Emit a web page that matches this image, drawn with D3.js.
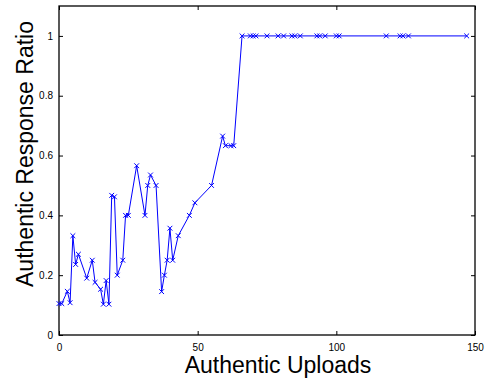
<!DOCTYPE html>
<html>
<head>
<meta charset="utf-8">
<script src="https://cdn.jsdelivr.net/npm/d3@7"></script>
<style>
  html, body { margin: 0; padding: 0; background: #fff; }
  svg { display: block; }
  text { font-family: "Liberation Sans", Arial, Helvetica, sans-serif; fill: #000; }
</style>
</head>
<body>
<svg id="chart" width="492" height="381"></svg>
<script>
// Number of authentic uploads per user
const uploads = [0, 1, 3, 4, 5, 6, 7, 10, 12, 13, 15, 16, 17, 18, 19, 20, 21, 23, 24, 25,
  28, 31, 32, 33, 35, 37, 38, 39, 40, 41, 43, 47, 49, 55, 59, 60, 62, 63,
  66, 69, 70, 71, 75, 79, 81, 84, 85, 87, 93, 94, 96, 100, 101, 118, 123, 124, 126, 147];
// Fraction of responses that were authentic
const ratios = [0.105, 0.105, 0.146, 0.108, 0.332, 0.236, 0.27, 0.19, 0.25, 0.176, 0.153, 0.103, 0.182, 0.103, 0.467, 0.462, 0.2, 0.25, 0.4, 0.4,
  0.566, 0.4, 0.5, 0.535, 0.5, 0.145, 0.2, 0.25, 0.357, 0.25, 0.332, 0.4, 0.442, 0.5, 0.665, 0.633, 0.633, 0.633,
  1, 1, 1, 1, 1, 1, 1, 1, 1, 1, 1, 1, 1, 1, 1, 1, 1, 1, 1, 1];
const xTicks = [0, 50, 100, 150];
const yTicks = [0, 0.2, 0.4, 0.6, 0.8, 1];
const xTitle = "Authentic Uploads";
const yTitle = "Authentic Response Ratio";

const data = uploads.map((u, i) => ({ x: u, y: ratios[i] }));

const svg = d3.select("#chart");
const plotLeft = 59, plotRight = 475, plotTop = 6, plotBottom = 335;

const x = d3.scaleLinear().domain([0, 150]).range([plotLeft, plotRight]);
const y = d3.scaleLinear().domain([0, 1.1]).range([plotBottom, plotTop]);

const tickLen = 4;
const fmtY = d3.format("~g");

// Bottom and left axes with inward ticks
const gx = svg.append("g").attr("transform", `translate(0,${plotBottom})`)
  .call(d3.axisBottom(x).tickValues(xTicks).tickSizeInner(-tickLen).tickSizeOuter(0).tickPadding(9).tickFormat(d3.format("d")));
const gy = svg.append("g").attr("transform", `translate(${plotLeft},0)`)
  .call(d3.axisLeft(y).tickValues(yTicks).tickSizeInner(-tickLen).tickSizeOuter(0).tickPadding(6).tickFormat(fmtY));
// Top and right mirrored ticks
const gxt = svg.append("g").attr("transform", `translate(0,${plotTop})`)
  .call(d3.axisTop(x).tickValues(xTicks).tickSizeInner(-tickLen).tickSizeOuter(0).tickFormat(""));
const gyr = svg.append("g").attr("transform", `translate(${plotRight},0)`)
  .call(d3.axisRight(y).tickValues(yTicks).tickSizeInner(-tickLen).tickSizeOuter(0).tickFormat(""));

[gx, gy, gxt, gyr].forEach(g => {
  g.select(".domain").remove();
  g.selectAll(".tick line").attr("stroke", "#000").attr("stroke-width", 1);
  g.selectAll(".tick text").attr("font-size", 10).attr("font-family", "Liberation Sans, Arial, sans-serif").attr("fill", "#000");
});

// Axes box
svg.append("rect")
  .attr("x", plotLeft).attr("y", plotTop)
  .attr("width", plotRight - plotLeft).attr("height", plotBottom - plotTop)
  .attr("fill", "none").attr("stroke", "#000").attr("stroke-width", 1.3);

// Data line
const line = d3.line().x(d => x(d.x)).y(d => y(d.y));
svg.append("path")
  .datum(data)
  .attr("d", line)
  .attr("fill", "none")
  .attr("stroke", "#0000ff")
  .attr("stroke-width", 1);

// Cross markers
const m = 2.4;
svg.append("g").selectAll("path.mk")
  .data(data)
  .join("path")
  .attr("class", "mk")
  .attr("d", d => {
    const cx = x(d.x), cy = y(d.y);
    return `M${cx - m},${cy - m}L${cx + m},${cy + m}M${cx - m},${cy + m}L${cx + m},${cy - m}`;
  })
  .attr("stroke", "#0000ff")
  .attr("stroke-width", 1)
  .attr("fill", "none");

// Axis titles
svg.append("text")
  .attr("x", 278).attr("y", 373)
  .attr("text-anchor", "middle")
  .attr("font-size", 23)
  .text(xTitle);

svg.append("text")
  .attr("transform", "translate(33,154) rotate(-90)")
  .attr("text-anchor", "middle")
  .attr("font-size", 23)
  .text(yTitle);
</script>
</body>
</html>
